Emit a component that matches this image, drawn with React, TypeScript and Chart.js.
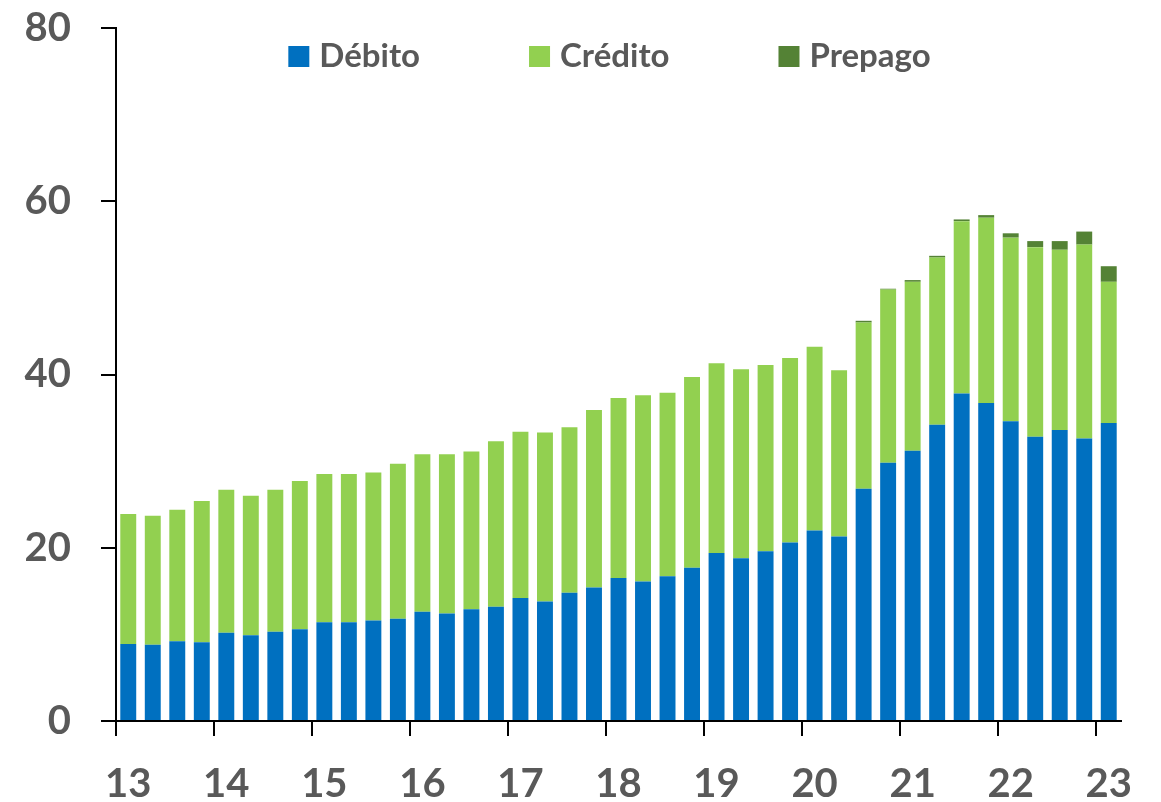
import React, { useEffect, useRef } from "react";
import { Chart, registerables } from "chart.js";

Chart.register(...registerables);

// Quarters 2013 T1 .. 2023 T1
const quarters: string[] = [
  "2013-T1", "2013-T2", "2013-T3", "2013-T4",
  "2014-T1", "2014-T2", "2014-T3", "2014-T4",
  "2015-T1", "2015-T2", "2015-T3", "2015-T4",
  "2016-T1", "2016-T2", "2016-T3", "2016-T4",
  "2017-T1", "2017-T2", "2017-T3", "2017-T4",
  "2018-T1", "2018-T2", "2018-T3", "2018-T4",
  "2019-T1", "2019-T2", "2019-T3", "2019-T4",
  "2020-T1", "2020-T2", "2020-T3", "2020-T4",
  "2021-T1", "2021-T2", "2021-T3", "2021-T4",
  "2022-T1", "2022-T2", "2022-T3", "2022-T4",
  "2023-T1",
];

const yearTickLabels: string[] = ["13", "14", "15", "16", "17", "18", "19", "20", "21", "22", "23"];

const debito: number[] = [
  8.9, 8.8, 9.2, 9.1, 10.2, 9.9, 10.3, 10.6, 11.4, 11.4, 11.6, 11.8,
  12.6, 12.4, 12.9, 13.2, 14.2, 13.8, 14.8, 15.4, 16.5, 16.1, 16.7, 17.7,
  19.4, 18.8, 19.6, 20.6, 22.0, 21.3, 26.8, 29.8, 31.2, 34.2, 37.8, 36.7,
  34.6, 32.8, 33.6, 32.6, 34.4,
];

const credito: number[] = [
  15.0, 14.9, 15.2, 16.3, 16.5, 16.1, 16.4, 17.1, 17.1, 17.1, 17.1, 17.9,
  18.2, 18.4, 18.2, 19.1, 19.2, 19.5, 19.1, 20.5, 20.8, 21.5, 21.2, 22.0,
  21.9, 21.8, 21.5, 21.3, 21.2, 19.2, 19.2, 20.0, 19.5, 19.3, 19.9, 21.4,
  21.2, 21.9, 20.8, 22.4, 16.3,
];

const prepago: number[] = [
  0, 0, 0, 0, 0, 0, 0, 0, 0, 0, 0, 0,
  0, 0, 0, 0, 0, 0, 0, 0, 0, 0, 0, 0,
  0, 0, 0, 0, 0, 0, 0.2, 0.1, 0.2, 0.2, 0.2, 0.3,
  0.5, 0.7, 1.0, 1.5, 1.8,
];

const yTicks: number[] = [0, 20, 40, 60, 80];

const TEXT = "#595959";
const FONT = "Lato, 'Open Sans', 'DejaVu Sans', sans-serif";

const customLegend = {
  id: "customLegend",
  afterDraw(chart: any) {
    const { ctx, chartArea } = chart;
    ctx.save();
    ctx.font = `bold 33px ${FONT}`;
    const box = 21;
    const gapText = 10;
    const gapItem = 109;
    const items = chart.data.datasets.map((ds: any) => ({
      text: ds.label as string,
      color: ds.backgroundColor as string,
      w: ctx.measureText(ds.label).width,
    }));
    const total =
      items.reduce((s: number, it: any) => s + box + gapText + it.w, 0) +
      gapItem * (items.length - 1);
    let x = (chartArea.left + chartArea.right) / 2 - 9 - total / 2;
    const yTop = chartArea.top + 18;
    ctx.textBaseline = "alphabetic";
    ctx.textAlign = "left";
    for (const it of items) {
      ctx.fillStyle = it.color;
      ctx.fillRect(x, yTop, box, box);
      ctx.fillStyle = TEXT;
      ctx.fillText(it.text, x + box + gapText, yTop + box);
      x += box + gapText + it.w + gapItem;
    }
    ctx.restore();
  },
};

export default function App() {
  const canvasRef = useRef<HTMLCanvasElement | null>(null);

  useEffect(() => {
    if (!canvasRef.current) return;
    const chart = new Chart(canvasRef.current, {
      type: "bar",
      data: {
        labels: quarters,
        datasets: [
          { label: "Débito", data: debito, backgroundColor: "#0070C0", borderWidth: 0 },
          { label: "Crédito", data: credito, backgroundColor: "#92D050", borderWidth: 0 },
          { label: "Prepago", data: prepago, backgroundColor: "#548235", borderWidth: 0 },
        ],
      },
      options: {
        responsive: false,
        animation: false,
        devicePixelRatio: 1,
        layout: { padding: { left: 0, right: 40, top: 28, bottom: 0 } },
        datasets: {
          bar: { categoryPercentage: 1, barPercentage: 0.65 },
        },
        plugins: {
          legend: { display: false },
          tooltip: { enabled: false },
        },
        scales: {
          x: {
            stacked: true,
            offset: true,
            grid: {
              offset: true,
              drawOnChartArea: false,
              drawTicks: true,
              tickLength: 15,
              lineWidth: 2,
              color: (c: any) => (typeof c.index === "number" && c.index % 4 === 0 ? "#000000" : "rgba(0,0,0,0)"),
            },
            border: { display: true, color: "#000000", width: 2 },
            ticks: {
              autoSkip: false,
              maxRotation: 0,
              minRotation: 0,
              padding: 24,
              color: TEXT,
              font: { family: FONT, size: 40, weight: "bold" },
              callback: (_v: any, i: number) => (i % 4 === 0 ? yearTickLabels[i / 4] : ""),
            },
            afterFit: (scale: any) => {
              scale.height = 81;
              scale.paddingRight = 0;
              scale.paddingLeft = 0;
            },
          },
          y: {
            stacked: true,
            min: 0,
            max: 80,
            afterBuildTicks: (scale: any) => {
              scale.ticks = yTicks.map((v) => ({ value: v }));
            },
            grid: {
              drawOnChartArea: false,
              drawTicks: true,
              tickLength: 15,
              lineWidth: 2,
              color: "#000000",
            },
            border: { display: true, color: "#000000", width: 2 },
            ticks: {
              padding: 30,
              color: TEXT,
              font: { family: FONT, size: 40, weight: "bold" },
            },
            afterFit: (scale: any) => {
              scale.width = 116;
              scale.paddingTop = 0;
              scale.paddingBottom = 0;
            },
          },
        },
      },
      plugins: [customLegend],
    });
    return () => chart.destroy();
  }, []);

  return (
    <canvas
      ref={canvasRef}
      width={1161}
      height={802}
      style={{ position: "fixed", left: 0, top: 0, width: 1161, height: 802 }}
    />
  );
}
